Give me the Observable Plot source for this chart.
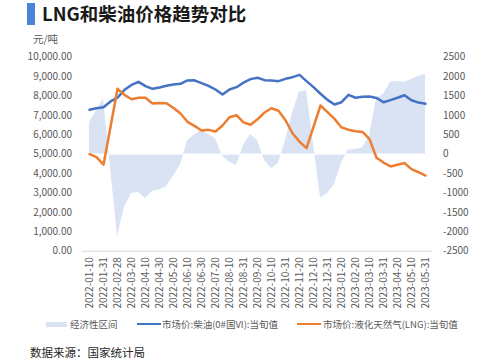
<!DOCTYPE html>
<html>
<head>
<meta charset="utf-8">
<script src="https://cdn.jsdelivr.net/npm/d3@7"></script>
<script src="https://cdn.jsdelivr.net/npm/@observablehq/plot@0.6"></script>
<style>
  html, body { margin: 0; padding: 0; background: #fff; }
  #root { position: relative; width: 500px; height: 362px; overflow: hidden;
          font-family: "Noto Sans CJK SC", "Noto Sans", sans-serif; }
  #bar { position: absolute; left: 27px; top: 3px; width: 8px; height: 22px; background: #4a86d8; }
  #title { position: absolute; left: 42px; top: 0px; font-size: 18.5px; font-weight: 700; color: #1a1a1a;
           line-height: 27px; white-space: nowrap; }
  #unit { position: absolute; left: 33px; top: 33px; font-size: 10.5px; color: #595959; line-height: 11px; }
  #chart { position: absolute; left: 0; top: 40px; }
  .leg { position: absolute; top: 316px; height: 16px; line-height: 16px; font-size: 9.5px; color: #595959; white-space: nowrap; }
  .sw { position: absolute; }
  #caption { position: absolute; left: 30px; top: 343px; font-size: 11.5px; color: #262626; line-height: 18px; white-space: nowrap; }
</style>
</head>
<body>
<div id="root">
  <div id="bar"></div>
  <div id="title">LNG和柴油价格趋势对比</div>
  <div id="unit">元/吨</div>
  <div id="chart"></div>
  <div class="sw" style="left:46px; top:321.5px; width:21px; height:5px; background:#dae3f3;"></div>
  <div class="leg" style="left:70px;">经济性区间</div>
  <div class="sw" style="left:137px; top:322.8px; width:24px; height:2.5px; background:#4472c4;"></div>
  <div class="leg" style="left:162px;">市场价:柴油(0#国VI):当旬值</div>
  <div class="sw" style="left:297px; top:322.8px; width:24px; height:2.5px; background:#ed7d31;"></div>
  <div class="leg" style="left:323px;">市场价:液化天然气(LNG):当旬值</div>
  <div id="caption">数据来源：国家统计局</div>
</div>
<script>
// ---- data ----
const dates = [
  "2022-01-10","2022-01-20","2022-01-31","2022-02-20","2022-02-28",
  "2022-03-10","2022-03-20","2022-03-31","2022-04-10","2022-04-20","2022-04-30",
  "2022-05-10","2022-05-20","2022-05-31","2022-06-10","2022-06-20","2022-06-30",
  "2022-07-10","2022-07-20","2022-07-31","2022-08-10","2022-08-20","2022-08-31",
  "2022-09-10","2022-09-20","2022-09-30","2022-10-10","2022-10-20","2022-10-31",
  "2022-11-10","2022-11-20","2022-11-30","2022-12-10","2022-12-20","2022-12-31",
  "2023-01-10","2023-01-20","2023-02-10","2023-02-20","2023-02-28",
  "2023-03-10","2023-03-20","2023-03-31","2023-04-10","2023-04-20","2023-04-30",
  "2023-05-10","2023-05-20","2023-05-31"
];
// 市场价:柴油(0#国VI):当旬值 (left axis, 元/吨)
const diesel = [
  7290,7370,7420,7720,7920,8320,8570,8730,8510,8370,8440,8530,8590,8630,8800,8810,8660,
  8525,8335,8075,8335,8455,8690,8870,8940,8815,8800,8765,8885,8970,9090,8765,8455,8115,
  7800,7560,7680,8060,7910,7960,7970,7900,7680,7790,7910,8040,7780,7660,7600
];
// 市场价:液化天然气(LNG):当旬值 (left axis, 元/吨)
const lng = [
  5000,4845,4460,6400,8370,8060,7830,7910,7910,7610,7640,7630,7380,7095,6670,6460,6220,
  6255,6170,6480,6905,7010,6640,6520,6800,7150,7370,7240,6750,6080,5650,5310,6410,7510,
  7165,6820,6380,6260,6180,6150,5780,4820,4570,4370,4460,4545,4230,4070,3900
];
// 经济性区间 (right axis)
const econ = [
  820,1120,1430,-340,-2120,-1365,-1020,-980,-1150,-955,-920,-830,-570,-270,340,500,610,
  510,395,-55,-205,-290,225,510,350,-160,-375,-235,355,1060,1600,1640,260,-1120,
  -1010,-785,-230,110,120,160,480,1430,1540,1855,1875,1855,1925,2005,2070
];
const leftTicks = [0,1000,2000,3000,4000,5000,6000,7000,8000,9000,10000];
const rightTicks = [-2500,-2000,-1500,-1000,-500,0,500,1000,1500,2000,2500];
const xTickLabels = dates.filter((d, i) => i % 2 === 0);

// right axis [-2500, 2500] shares the frame with left axis [0, 10000]
const toLeft = v => 5000 + v * 2;
const fromLeft = v => (v - 5000) / 2;

const data = dates.map((d, i) => ({date: d, diesel: diesel[i], lng: lng[i], econ: toLeft(econ[i])}));

const chart = Plot.plot({
  width: 500,
  height: 282,
  marginLeft: 81.5,
  marginRight: 68,
  marginTop: 16.7,
  marginBottom: 71.3,
  style: {fontFamily: '"Noto Sans CJK SC", "Noto Sans", sans-serif', fontSize: "10px", color: "#595959", background: "transparent"},
  x: {type: "point", domain: dates, padding: 0.5, axis: null},
  y: {domain: [0, 10000], axis: null},
  marks: [
    Plot.areaY(data, {x: "date", y1: 5000, y2: "econ", fill: "#dae3f3", curve: "linear"}),
    Plot.ruleY([5000], {stroke: "#ffffff", strokeWidth: 1}),
    Plot.ruleY([0], {stroke: "#d9d9d9", strokeWidth: 1}),
    Plot.lineY(data, {x: "date", y: "diesel", stroke: "#4472c4", strokeWidth: 2.5, strokeLinejoin: "round", strokeLinecap: "round"}),
    Plot.lineY(data, {x: "date", y: "lng", stroke: "#ed7d31", strokeWidth: 2.5, strokeLinejoin: "round", strokeLinecap: "round"}),
    Plot.axisY(leftTicks, {anchor: "left", tickSize: 0, tickPadding: 10, label: null, tickFormat: d3.format(",.2f"), fontSize: 10}),
    Plot.axisY(rightTicks.map(toLeft), {anchor: "right", tickSize: 0, tickPadding: 10.5, label: null, tickFormat: d => String(fromLeft(d)), fontSize: 10}),
    Plot.axisX(xTickLabels, {anchor: "bottom", tickSize: 0, tickPadding: 6, tickRotate: -90, label: null, fontSize: 10})
  ]
});
document.getElementById("chart").appendChild(chart);
</script>
</body>
</html>
